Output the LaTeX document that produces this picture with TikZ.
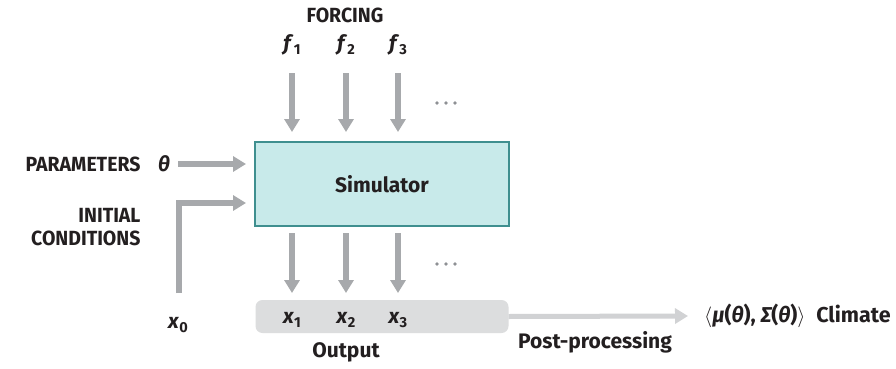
\documentclass[tikz,border=0pt]{standalone}
\usepackage{fontspec}
\setmainfont{Fira Sans}
\newfontfamily\gr{Fira Sans}
\newfontfamily\capsfont[FakeStretch=0.95]{Fira Sans}
\usetikzlibrary{arrows.meta}
\definecolor{arrgray}{HTML}{A7A9AC}
\definecolor{postgray}{HTML}{D1D2D4}
\definecolor{simfill}{HTML}{C8EAEA}
\definecolor{simdraw}{HTML}{3F8F8F}
\definecolor{outfill}{HTML}{DCDDDE}
\definecolor{txt}{HTML}{231F20}
\definecolor{dotgray}{HTML}{8E9094}
\newcommand\vsub[2]{\textbf{\textit{#1}}\raisebox{-0.35ex}{\bfseries\fontsize{14.5}{15}\selectfont #2}}
\newcommand\grit[1]{{\gr\bfseries\itshape #1}}
\begin{document}
\begin{tikzpicture}[x=1pt,y=-1pt,
  every node/.style={text=txt, font=\bfseries\fontsize{21}{23}\selectfont},
  capslbl/.style={font=\capsfont\bfseries\fontsize{20.5}{23}\selectfont},
  arr/.style={draw=arrgray, line width=6pt, line join=miter, -{Triangle[width=15pt,length=13pt]}},
  postarr/.style={draw=postgray, line width=5pt, -{Triangle[width=15pt,length=13pt]}},
  simbox/.style={draw=simdraw, fill=simfill, line width=1.2pt, minimum width=254pt, minimum height=84pt, inner sep=0pt},
  outbox/.style={fill=outfill, rounded corners=7pt, minimum width=253pt, minimum height=33pt, inner sep=0pt},
  dotc/.style={fill=dotgray, circle, inner sep=0pt, minimum size=3.6pt}]
\useasboundingbox (0,0) rectangle (896,369);
\fill[white] (0,0) rectangle (896,369);
\node[simbox] (sim) at (382,184) {Simulator};
\node[outbox] (out) at (382,316.5) {};
\node[capslbl] (forcing) at (345,15) {FORCING};
\node (f1) at (292,45) {\vsub{f}{1}};
\node (f2) at (346,45) {\vsub{f}{2}};
\node (f3) at (398,45) {\vsub{f}{3}};
\foreach \i/\xx in {1/437,2/446,3/455}{
  \node[dotc] (dt\i) at (\xx,103) {};
  \node[dotc] (db\i) at (\xx,264) {};
}
\node[capslbl, anchor=east] (par) at (144,164) {PARAMETERS};
\node (theta) at (164,164) {\grit{θ}};
\node[capslbl, anchor=east, align=right] (init) at (144,227) {INITIAL\\CONDITIONS};
\node (x0) at (178,325) {\vsub{x}{0}};
\node (x1) at (292,320) {\vsub{x}{1}};
\node (x2) at (346,320) {\vsub{x}{2}};
\node (x3) at (398,320) {\vsub{x}{3}};
\node (outlbl) at (346,352) {Output};
\node (post) at (595,342) {Post-processing};
\node[anchor=west, inner sep=0pt, font=\bfseries\fontsize{21.5}{23}\selectfont] (clim) at (704,316) {$\langle$\grit{μ}(\grit{θ}), \grit{Σ}(\grit{θ})$\rangle$\enspace Climate};
% coordinates
\coordinate (t1s) at (292,73); \coordinate (t1e) at (292,132);
\coordinate (t2s) at (346,73); \coordinate (t2e) at (346,132);
\coordinate (t3s) at (398,73); \coordinate (t3e) at (398,132);
\coordinate (b1s) at (292,233); \coordinate (b1e) at (292,293);
\coordinate (b2s) at (346,233); \coordinate (b2e) at (346,293);
\coordinate (b3s) at (398,233); \coordinate (b3e) at (398,293);
\coordinate (ps) at (178,164); \coordinate (pe) at (246,164);
\coordinate (is) at (179,293); \coordinate (ic) at (179,203); \coordinate (ie) at (246,203);
\coordinate (pp) at (688,316);
\draw[arr] (t1s) -- (t1e);
\draw[arr] (t2s) -- (t2e);
\draw[arr] (t3s) -- (t3e);
\draw[arr] (b1s) -- (b1e);
\draw[arr] (b2s) -- (b2e);
\draw[arr] (b3s) -- (b3e);
\draw[arr] (ps) -- (pe);
\draw[arr] (is) -- (ic) -- (ie);
\draw[postarr] (out.east) -- (pp);
\end{tikzpicture}
\end{document}
